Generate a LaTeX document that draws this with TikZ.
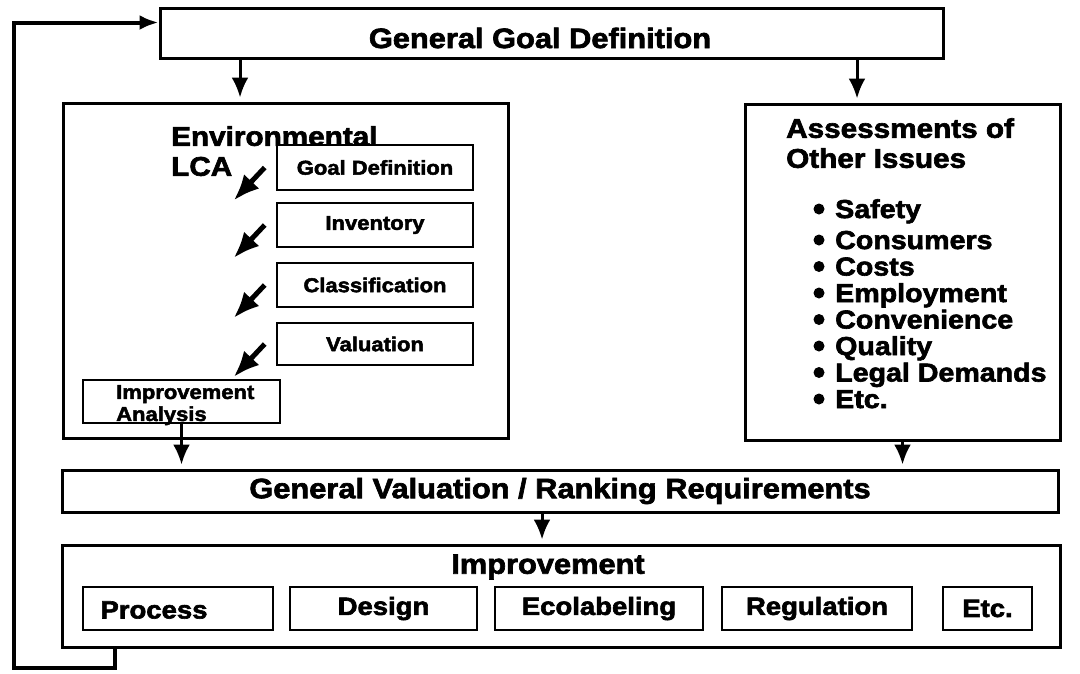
\documentclass[tikz,border=0pt]{standalone}
\usepackage{fontspec}
\setmainfont{Liberation Sans}[FakeStretch=1.1, BoldFeatures={FakeBold=2.4}]
\usetikzlibrary{arrows.meta}

\begin{document}
\begin{tikzpicture}[
  x=1pt, y=-1pt,
  ttl/.style ={font=\fontsize{28}{30}\selectfont\bfseries},
  hd/.style  ={font=\fontsize{27}{30}\selectfont\bfseries, inner sep=0pt, align=left},
  itm/.style ={font=\fontsize{26}{26.5}\selectfont\bfseries, inner sep=0pt, align=left},
  sml/.style ={font=\fontsize{20}{22}\selectfont\bfseries},
  btm/.style ={font=\fontsize{25}{27}\selectfont\bfseries},
  bx/.style 2 args ={draw=black, line width=3pt, fill=white, inner sep=0pt,
                     minimum width=#1, minimum height=#2},
  sbx/.style 2 args={bx={#1}{#2}, line width=2.6pt},
  ar/.style  ={-{Latex[length=20pt,width=17pt]}, line width=3pt, shorten >=4pt},
  dg/.style  ={-{Latex[length=26pt,width=21pt]}, line width=5pt},
  fb/.style  ={-{Latex[length=19pt,width=15pt]}, line width=4pt},
]
\fill[white] (0,0) rectangle (1080,673);
\useasboundingbox (0,0) rectangle (1080,673);

% ---- goal on top ----
\node[bx={783pt}{50pt}] (gg) at (551.5,33) {};
\node[ttl] (ggt) at (540,38) {General Goal Definition};

% ---- environmental LCA ----
\node[bx={445pt}{335pt}] (env) at (285.5,270.5) {};
\node[hd, anchor=north west] (envt) at (171,126) {Environmental\\LCA};
\node[sbx={196pt}{45pt}, sml] (gd)  at (375,167.5) {Goal Definition};
\node[sbx={196pt}{44pt}, sml] (inv) at (375,225)   {Inventory};
\node[sbx={196pt}{44pt}, sml] (cls) at (375,285)   {Classification};
\node[sbx={196pt}{42pt}, sml] (val) at (375,344)   {Valuation};
\node[sbx={197pt}{43pt}] (ia) at (181.5,401.5) {};
\node[sml, anchor=north west, inner sep=0pt, align=left] (iat) at (116,385)
     {Improvement\\Analysis};

% ---- other issues ----
\node[bx={315pt}{336pt}] (ass) at (902.5,272) {};
\node[hd, anchor=north west] (asst) at (786,118) {Assessments of\\Other Issues};
\node[itm, anchor=north west] (iss) at (835,199)
     {Safety\\[4.5pt]
      Consumers\\
      Costs\\
      Employment\\
      Convenience\\
      Quality\\
      Legal Demands\\
      Etc.};
\foreach \y in {209,240,266.5,293,319.5,346,372.5,399}
  \fill (819,\y) circle (5.5pt);

% ---- valuation and improvement ----
\node[bx={996pt}{42pt}, ttl] (gv) at (560,491) {General Valuation / Ranking Requirements};
\node[bx={998pt}{102pt}] (imp) at (561,596) {};
\node[ttl] (impt) at (548,567) {Improvement};
\node[sbx={190pt}{43pt}] (pr)  at (178,608.5)   {};
\node[btm] (prt) at (154,610) {Process};
\node[sbx={187pt}{43pt}, btm] (ds)  at (383.5,608.5) {Design};
\node[sbx={208pt}{43pt}, btm] (eco) at (599,608.5)   {Ecolabeling};
\node[sbx={190pt}{43pt}, btm] (reg) at (817,608.5)   {Regulation};
\node[sbx={89pt}{43pt}, btm]  (etc) at (987.5,608.5) {Etc.};

% ---- helper points ----
\coordinate (xe) at (240,0);
\coordinate (xa) at (857,0);
\coordinate (xv) at (542,0);
\coordinate (xf) at (115,0);
\coordinate (fbc) at (14,668);
\coordinate (fbt) at (0,22.5);

% ---- edges ----
\draw[ar] (gg.south -| xe) -- (env.north -| xe);
\draw[ar] (gg.south -| xa) -- (ass.north -| xa);
\draw[dg] ([xshift=-11pt]gd.west)  -- ++(-31,33);
\draw[dg] ([xshift=-11pt]inv.west) -- ++(-31,33);
\draw[dg] ([xshift=-11pt]cls.west) -- ++(-31,33);
\draw[dg] ([xshift=-11pt]val.west) -- ++(-31,33);
\draw[ar] (ia.south) -- (gv.north -| ia.south);
\draw[ar] (ass.south) -- (gv.north -| ass.south);
\draw[ar] (gv.south -| xv) -- (imp.north -| xv);
\draw[fb] (imp.south -| xf) -- (xf |- fbc) -- (fbc) -- (fbc |- fbt) -- (gg.west |- fbt);
\end{tikzpicture}
\end{document}
